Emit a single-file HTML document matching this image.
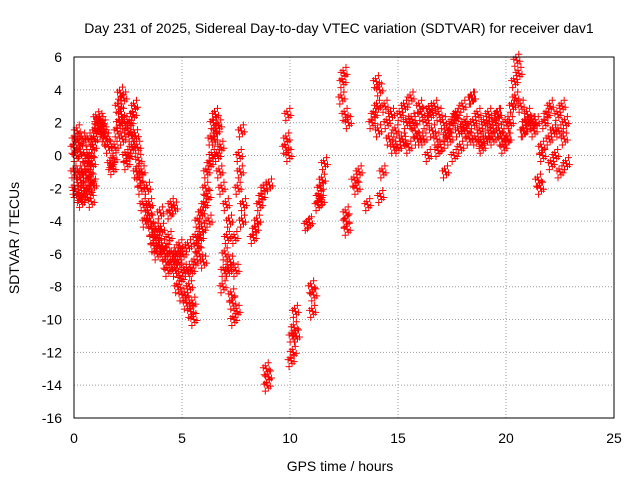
<!DOCTYPE html>
<html><head><meta charset="utf-8">
<style>
html,body{margin:0;padding:0;background:#fff;}
svg{display:block;font-family:"Liberation Sans",sans-serif;}
</style></head>
<body>
<svg id="chart" width="640" height="480" viewBox="0 0 640 480">
<rect width="640" height="480" fill="#fff"/>
<text x="339" y="33" font-size="14" text-anchor="middle">Day 231 of 2025, Sidereal Day-to-day VTEC variation (SDTVAR) for receiver dav1</text>
<text x="340" y="471" font-size="14" text-anchor="middle">GPS time / hours</text>
<text transform="translate(19,238) rotate(-90)" font-size="14" text-anchor="middle">SDTVAR / TECUs</text>
<g id="grid"></g><g id="ticks"></g><g id="marks"></g>
<rect x="74" y="57" width="540" height="361" fill="none" stroke="#000"/>
</svg>
<script>
const xTicks=[0,5,10,15,20,25];
const yTicks=[6,4,2,0,-2,-4,-6,-8,-10,-12,-14,-16];
const times=[
0,0,0.05,0.05,0.1,0.1,0.15,0.2,0.2,0.25,
0.3,0.3,0.35,0.4,0.4,0.45,0.5,0.5,0.55,0.6,
0.6,0.65,0.7,0.7,0.75,0.8,0.8,0.85,0.9,0.9,
0.95,1.0,1.05,1.1,1.15,1.2,1.25,1.3,1.35,1.4,
1.5,1.6,1.7,1.8,1.85,1.9,2.0,2.05,2.1,2.15,
2.2,2.25,2.3,2.35,2.4,2.45,2.5,2.55,2.6,2.65,
2.7,2.75,2.8,2.85,2.9,2.95,3.0,3.05,3.1,3.15,
3.2,3.3,3.4,3.45,3.5,3.55,3.6,3.65,3.7,3.8,
3.85,3.9,3.95,4.0,4.05,4.1,4.2,4.25,4.3,4.35,
4.4,4.45,4.5,4.55,4.6,4.65,4.7,4.75,4.8,4.85,
4.9,4.95,5.0,5.05,5.1,5.15,5.2,5.25,5.3,5.35,
5.4,5.45,5.5,5.55,5.6,5.65,5.7,5.75,5.8,5.85,
5.9,5.95,6.0,6.05,6.1,6.15,6.2,6.25,6.3,6.35,
6.4,6.45,6.5,6.55,6.6,6.65,6.7,6.75,6.8,6.85,
6.9,6.95,7.0,7.05,7.1,7.15,7.2,7.25,7.3,7.35,
7.4,7.45,7.5,7.55,7.6,7.65,7.7,7.75,7.8,7.85,
8.3,8.4,8.5,8.6,8.7,8.8,8.9,8.95,9.0,9.05,
9.8,9.85,9.9,9.95,10.05,10.1,10.15,10.2,10.25,10.3,
10.8,10.9,11.0,11.05,11.1,11.3,11.35,11.4,11.45,11.5,
11.6,12.4,12.45,12.5,12.55,12.6,12.6,12.65,12.7,13.0,
13.1,13.2,13.6,13.8,13.9,14.0,14.05,14.1,14.15,14.2,
14.3,14.4,14.5,14.6,14.7,14.8,14.9,15.0,15.1,15.2,
15.3,15.4,15.5,15.6,15.7,15.8,15.9,16.0,16.1,16.2,
16.3,16.4,16.5,16.6,16.7,16.8,16.9,17.0,17.1,17.2,
17.3,17.4,17.5,17.6,17.7,17.8,17.9,18.0,18.1,18.2,
18.3,18.4,18.5,18.6,18.7,18.8,18.9,19.0,19.1,19.2,
19.3,19.4,19.5,19.6,19.7,19.8,19.9,20.0,20.1,20.2,
20.3,20.4,20.5,20.6,20.7,20.8,20.9,21.0,21.1,21.2,
21.3,21.4,21.5,21.6,21.7,21.8,21.9,22.0,22.1,22.2,
22.3,22.4,22.5,22.6,22.7,22.8,
15.25,15.65,16.05,16.45,16.85,17.25,17.65,18.05,18.45,18.85,
19.25,19.65,20.05,20.45,20.85,21.25,21.65,22.05,22.45,22.75];
const values=[
-1,0.5,-2,1,0,-2.2,1.5,-1,0.8,-2.5,
-1.5,0.2,-2.8,-1,1,-2,-2.5,0,-1.2,-0.5,
-2,1,-1,-2.2,0,-1.5,-2.8,-0.5,-1.8,0.5,
1,1.5,2.3,2,1.8,2.2,2,1.5,1.8,1.2,
1,0.5,-0.5,-0.8,-0.2,0.5,1.5,3,2,3.8,
2.5,1,3.5,2,0,-0.5,1.5,0,2,1.2,
0.5,2.5,3,1.2,-1,0.5,-0.3,-1.5,-2,-1,
-3,-4,-2,-3.5,-3,-4,-4.5,-5,-5.5,-4.5,
-6,-5,-5.5,-3.5,-4.5,-5.5,-6,-6.5,-5.8,-7,
-5,-3.5,-3,-6,-6.5,-3.2,-7,-6,-8,-6.5,
-5.5,-7.5,-8.5,-6,-7,-8.5,-9,-7,-5.5,-8,
-9.5,-7,-9,-10,-6.5,-5,-5.5,-4,-6,-5,
-3.5,-4.5,-6.5,-3,-2,-1,-2.5,-4,-0.5,1,
0,2,1,2.5,1.5,0,1.8,-1,0.5,-2,
-8,-7,-6,-3,-5,-7,-4,-6.5,-8.5,-9,
-10,-5,-7,-9.5,-2,0,-1,1.5,-4,-3,
-5,-4.5,-4,-3,-2.5,-2,-13,-14,-13.5,-1.8,
0.5,1,2.5,0,-12.5,-11,-12,-10.5,-9.5,-11,
-4.2,-4.1,-8,-9.5,-8.5,-3,-2.5,-2,-2.8,-1.5,
-0.5,3.5,4.5,5,2.5,-4,-3.5,-4.5,2,-1.5,
-2,-1,-3,2,2.5,4.5,3,1.5,4,-2.5,
-1,3,2,1,2.5,0.5,1.5,0.5,2.5,1,
3,2,0.5,3.5,2,1.5,1,3,2.5,1,
2,0,2.5,1.5,3,1,2.5,0.5,2,-1,
1.5,1,2,0,2.5,1.5,0.5,3,2,1.5,
1,3.5,2,1,2.5,1.5,0.5,2,1,2.5,
1.5,1,2,2.5,1.5,1,0.5,2,1,2,
3,4.5,5.8,5,3,1.5,2,2.5,2,2,
1.5,2,-1.5,-2,0,2,2.5,1,-0.5,1.5,
0,2.5,-1,3,1,-0.5,
0.8,2.2,1,2.8,0.3,1.2,2.3,1.7,3.5,0.8,
1.9,2.5,1,3.5,1.5,2,0.5,3,1.5,2];
const X0=74,X1=614,Y0=57,Y1=418;
const xs=t=>X0+(t-0)/(25-0)*(X1-X0);
const ys=v=>Y0+(6-v)/(6-(-16))*(Y1-Y0);
const NS="http://www.w3.org/2000/svg";
const grid=document.getElementById('grid'),tk=document.getElementById('ticks'),mk=document.getElementById('marks');
xTicks.forEach(t=>{
 const x=xs(t);
 const g=document.createElementNS(NS,'line');
 
 
 g.setAttribute('x1',x);g.setAttribute('x2',x);g.setAttribute('y1',Y0);g.setAttribute('y2',Y1);
 g.setAttribute('stroke','#a0a0a0');g.setAttribute('stroke-dasharray','1,2');grid.appendChild(g);
 const l=document.createElementNS(NS,'text');
 
 
 l.setAttribute('x',x);l.setAttribute('y',443);l.setAttribute('font-size','14');l.setAttribute('text-anchor','middle');
 l.textContent=t;tk.appendChild(l);
});
yTicks.forEach(v=>{
 const y=ys(v);
 const g=document.createElementNS(NS,'line');
 
 
 g.setAttribute('x1',X0);g.setAttribute('x2',X1);g.setAttribute('y1',y);g.setAttribute('y2',y);
 g.setAttribute('stroke','#a0a0a0');g.setAttribute('stroke-dasharray','1,2');grid.appendChild(g);
 const l=document.createElementNS(NS,'text');
 
 
 l.setAttribute('x',62);l.setAttribute('y',y+5);l.setAttribute('font-size','14');l.setAttribute('text-anchor','end');
 l.textContent=v;tk.appendChild(l);
});
const offs=[[0,0],[1,3],[-1,-3],[2,-6],[-2,6],[3,1],[-3,-1]];
let d='';
const n=Math.min(times.length,values.length);
for(let i=0;i<n;i++){
 const x=xs(times[i]),y=ys(values[i]);
 offs.forEach(o=>{d+=`M${x+o[0]-3.5},${y+o[1]}h7M${x+o[0]},${y+o[1]-3.5}v7`;});
}
const p=document.createElementNS(NS,'path');


p.setAttribute('d',d);p.setAttribute('stroke','#ff0000');p.setAttribute('stroke-width','1');p.setAttribute('fill','none');
mk.appendChild(p);
</script>
</body></html>
